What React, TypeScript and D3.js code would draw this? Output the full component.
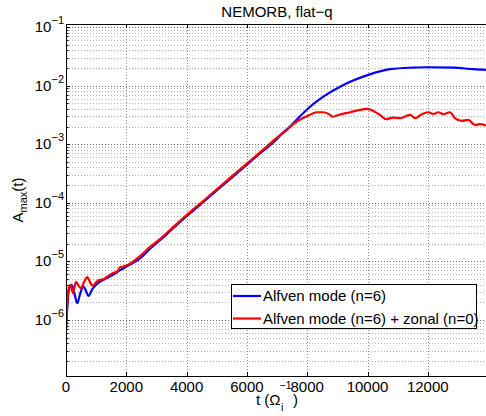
import React from "react";
import * as d3 from "d3";

const TITLE = "NEMORB, flat−q";
const X_TICKS = [0, 2000, 4000, 6000, 8000, 10000, 12000];
const Y_TICK_EXPONENTS = [-6, -5, -4, -3, -2, -1];
const LEGEND_LABELS = ["Alfven mode (n=6)", "Alfven mode (n=6) + zonal (n=0)"];

const T_BLUE = [0, 40, 90, 190, 280, 375, 470, 574, 660, 740, 880, 1018, 1260, 1559, 1800, 2000, 2455, 2800, 3118, 3500, 4000, 4500, 5000, 5500, 6000, 6500, 7000, 7098, 7430, 8036, 8534, 9088, 10027, 10746, 11519, 11997, 12846, 13509, 13930];
const A_BLUE = [7.08e-7, 1.58e-6, 3.16e-6, 3.98e-6, 2.82e-6, 1.93e-6, 2.82e-6, 3.72e-6, 3.16e-6, 2.57e-6, 3.39e-6, 4.07e-6, 4.9e-6, 5.89e-6, 7.08e-6, 8.13e-6, 1.12e-5, 1.66e-5, 2.29e-5, 3.47e-5, 5.89e-5, 9.77e-5, 1.62e-4, 2.69e-4, 4.47e-4, 7.41e-4, 1.23e-3, 1.41e-3, 2.0e-3, 4.1e-3, 6.47e-3, 9.57e-3, 1.52e-2, 1.9e-2, 2.02e-2, 2.05e-2, 2.02e-2, 1.9e-2, 1.85e-2];

const T_RED = [0, 40, 100, 150, 232, 332, 420, 497, 600, 707, 800, 886, 990, 1095, 1260, 1400, 1559, 1700, 1800, 1950, 2123, 2455, 2800, 3118, 3500, 4000, 4500, 5000, 5500, 6000, 6500, 7000, 7300, 7539, 7800, 8036, 8315, 8534, 8756, 8833, 9032, 9420, 9751, 9993, 10192, 10415, 10614, 10856, 11078, 11410, 11576, 11797, 12017, 12183, 12349, 12515, 12736, 12902, 13124, 13345, 13566, 13732, 13930];
const A_RED = [7.08e-7, 1.78e-6, 3.8e-6, 3.98e-6, 2.85e-6, 4.47e-6, 3.8e-6, 3.47e-6, 4.47e-6, 5.37e-6, 4.37e-6, 3.8e-6, 4.37e-6, 4.79e-6, 5.01e-6, 5.62e-6, 6.31e-6, 6.76e-6, 7.94e-6, 8.32e-6, 9.12e-6, 1.23e-5, 1.78e-5, 2.4e-5, 3.63e-5, 6.17e-5, 1.02e-4, 1.7e-4, 2.82e-4, 4.68e-4, 7.76e-4, 1.29e-3, 1.7e-3, 2.19e-3, 2.69e-3, 3.06e-3, 3.5e-3, 3.5e-3, 3.15e-3, 2.94e-3, 3.15e-3, 3.5e-3, 3.84e-3, 3.99e-3, 3.69e-3, 3.15e-3, 2.66e-3, 2.84e-3, 2.77e-3, 3.15e-3, 2.77e-3, 3.24e-3, 3.5e-3, 3.27e-3, 3.5e-3, 3.24e-3, 3.5e-3, 2.77e-3, 2.49e-3, 2.59e-3, 2.13e-3, 2.19e-3, 2.07e-3];

const W = 486;
const H = 416;
const FONT = "'Liberation Sans', Arial, Helvetica, sans-serif";

export default function App() {
  const left = 66, top = 24, bottom = 376, right = 486.6;
  const x = d3.scaleLinear().domain([0, 13950]).range([left, right]);
  const y = d3.scaleLog().domain([1.107e-7, 0.1122]).range([bottom, top]);

  const line = d3
    .line<[number, number]>()
    .x((d) => x(d[0]))
    .y((d) => y(d[1]))
    .curve(d3.curveMonotoneX);

  const blue: [number, number][] = T_BLUE.map((t, i) => [t, A_BLUE[i]]);
  const red: [number, number][] = T_RED.map((t, i) => [t, A_RED[i]]);

  const [y0, y1] = y.domain();
  const minor: number[] = [];
  const major: number[] = [];
  for (let e = -8; e <= 0; e++) {
    for (let k = 1; k <= 9; k++) {
      const v = k * Math.pow(10, e);
      if (v < y0 || v > y1) continue;
      if (k === 1) major.push(v);
      else minor.push(v);
    }
  }

  return (
    <svg
      width={W}
      height={H}
      style={{ position: "absolute", left: 0, top: 0, background: "#fff" }}
      fontFamily={FONT}
    >
      <defs>
        <clipPath id="plotclip">
          <rect x={left} y={top} width={right - left} height={bottom - top} />
        </clipPath>
      </defs>
      <rect x={0} y={0} width={W} height={H} fill="#fff" />
      {/* grid */}
      <g strokeWidth={1} strokeDasharray="1,2" fill="none">
        {minor.map((v, i) => (
          <line key={"mn" + i} x1={left} x2={right} y1={Math.round(y(v)) + 0.5} y2={Math.round(y(v)) + 0.5} stroke="#b4b4b4" />
        ))}
        {major.map((v, i) => (
          <line key={"mj" + i} x1={left} x2={right} y1={Math.round(y(v)) + 0.5} y2={Math.round(y(v)) + 0.5} stroke="#6a6a6a" />
        ))}
        {X_TICKS.filter((t) => t > 0).map((t) => (
          <line key={"vx" + t} x1={Math.round(x(t)) + 0.5} x2={Math.round(x(t)) + 0.5} y1={top} y2={bottom} stroke="#8a8a8a" />
        ))}
      </g>
      {/* ticks */}
      <g stroke="#000" strokeWidth={1}>
        {X_TICKS.map((t) => (
          <g key={"xt" + t}>
            <line x1={Math.round(x(t)) + 0.5} x2={Math.round(x(t)) + 0.5} y1={bottom} y2={bottom - 4} />
            <line x1={Math.round(x(t)) + 0.5} x2={Math.round(x(t)) + 0.5} y1={top} y2={top + 4} />
          </g>
        ))}
        {major.map((v, i) => (
          <line key={"ymt" + i} x1={left} x2={left + 4} y1={Math.round(y(v)) + 0.5} y2={Math.round(y(v)) + 0.5} />
        ))}
        {minor.map((v, i) => (
          <line key={"ymn" + i} x1={left} x2={left + 2.5} y1={Math.round(y(v)) + 0.5} y2={Math.round(y(v)) + 0.5} />
        ))}
      </g>
      {/* curves */}
      <g clipPath="url(#plotclip)" fill="none" strokeWidth={2.2} strokeLinejoin="round">
        <path d={line(blue) || ""} stroke="#0000ff" />
        <path d={line(red) || ""} stroke="#ff0000" />
      </g>
      {/* axes box */}
      <g stroke="#000" strokeWidth={1} fill="none">
        <line x1={left + 0.5} x2={left + 0.5} y1={top} y2={bottom + 0.5} />
        <line x1={left} x2={W + 2} y1={bottom + 0.5} y2={bottom + 0.5} />
        <line x1={left} x2={W + 2} y1={top + 0.5} y2={top + 0.5} />
      </g>
      {/* x tick labels */}
      <g fontSize={15} textAnchor="middle" fill="#000">
        {X_TICKS.map((t) => (
          <text key={"xl" + t} x={x(t)} y={392}>
            {t}
          </text>
        ))}
      </g>
      {/* y tick labels */}
      <g fill="#000">
        {Y_TICK_EXPONENTS.map((e) => (
          <text key={"yl" + e} x={64} y={y(Math.pow(10, e)) + 5} textAnchor="end" fontSize={15}>
            10
            <tspan fontSize={11} dy={-8}>
              {"−" + Math.abs(e)}
            </tspan>
          </text>
        ))}
      </g>
      {/* title */}
      <text x={277} y={17} textAnchor="middle" fontSize={15} fill="#000">
        {TITLE}
      </text>
      {/* x label */}
      <g fill="#000">
        <text x={256} y={405} fontSize={15}>t (Ω</text>
        <text x={281} y={411} fontSize={10.5}>i</text>
        <text x={279.5} y={389} fontSize={10.5}>−1</text>
        <text x={293} y={405} fontSize={15}>)</text>
      </g>
      {/* y label */}
      <g transform="translate(23,200) rotate(-90)" fill="#000">
        <text textAnchor="middle" fontSize={15}>
          A
          <tspan fontSize={11} dy={4}>max</tspan>
          <tspan fontSize={15} dy={-4}>(t)</tspan>
        </text>
      </g>
      {/* legend */}
      <g>
        <rect x={231.5} y={284.5} width={245} height={44} fill="#fff" stroke="#000" strokeWidth={1} />
        <line x1={233} x2={261} y1={296} y2={296} stroke="#0000ff" strokeWidth={2.2} />
        <line x1={233} x2={261} y1={318.5} y2={318.5} stroke="#ff0000" strokeWidth={2.2} />
        <text x={263} y={301} fontSize={15} fill="#000">{LEGEND_LABELS[0]}</text>
        <text x={263} y={323.5} fontSize={15} fill="#000">{LEGEND_LABELS[1]}</text>
      </g>
    </svg>
  );
}
